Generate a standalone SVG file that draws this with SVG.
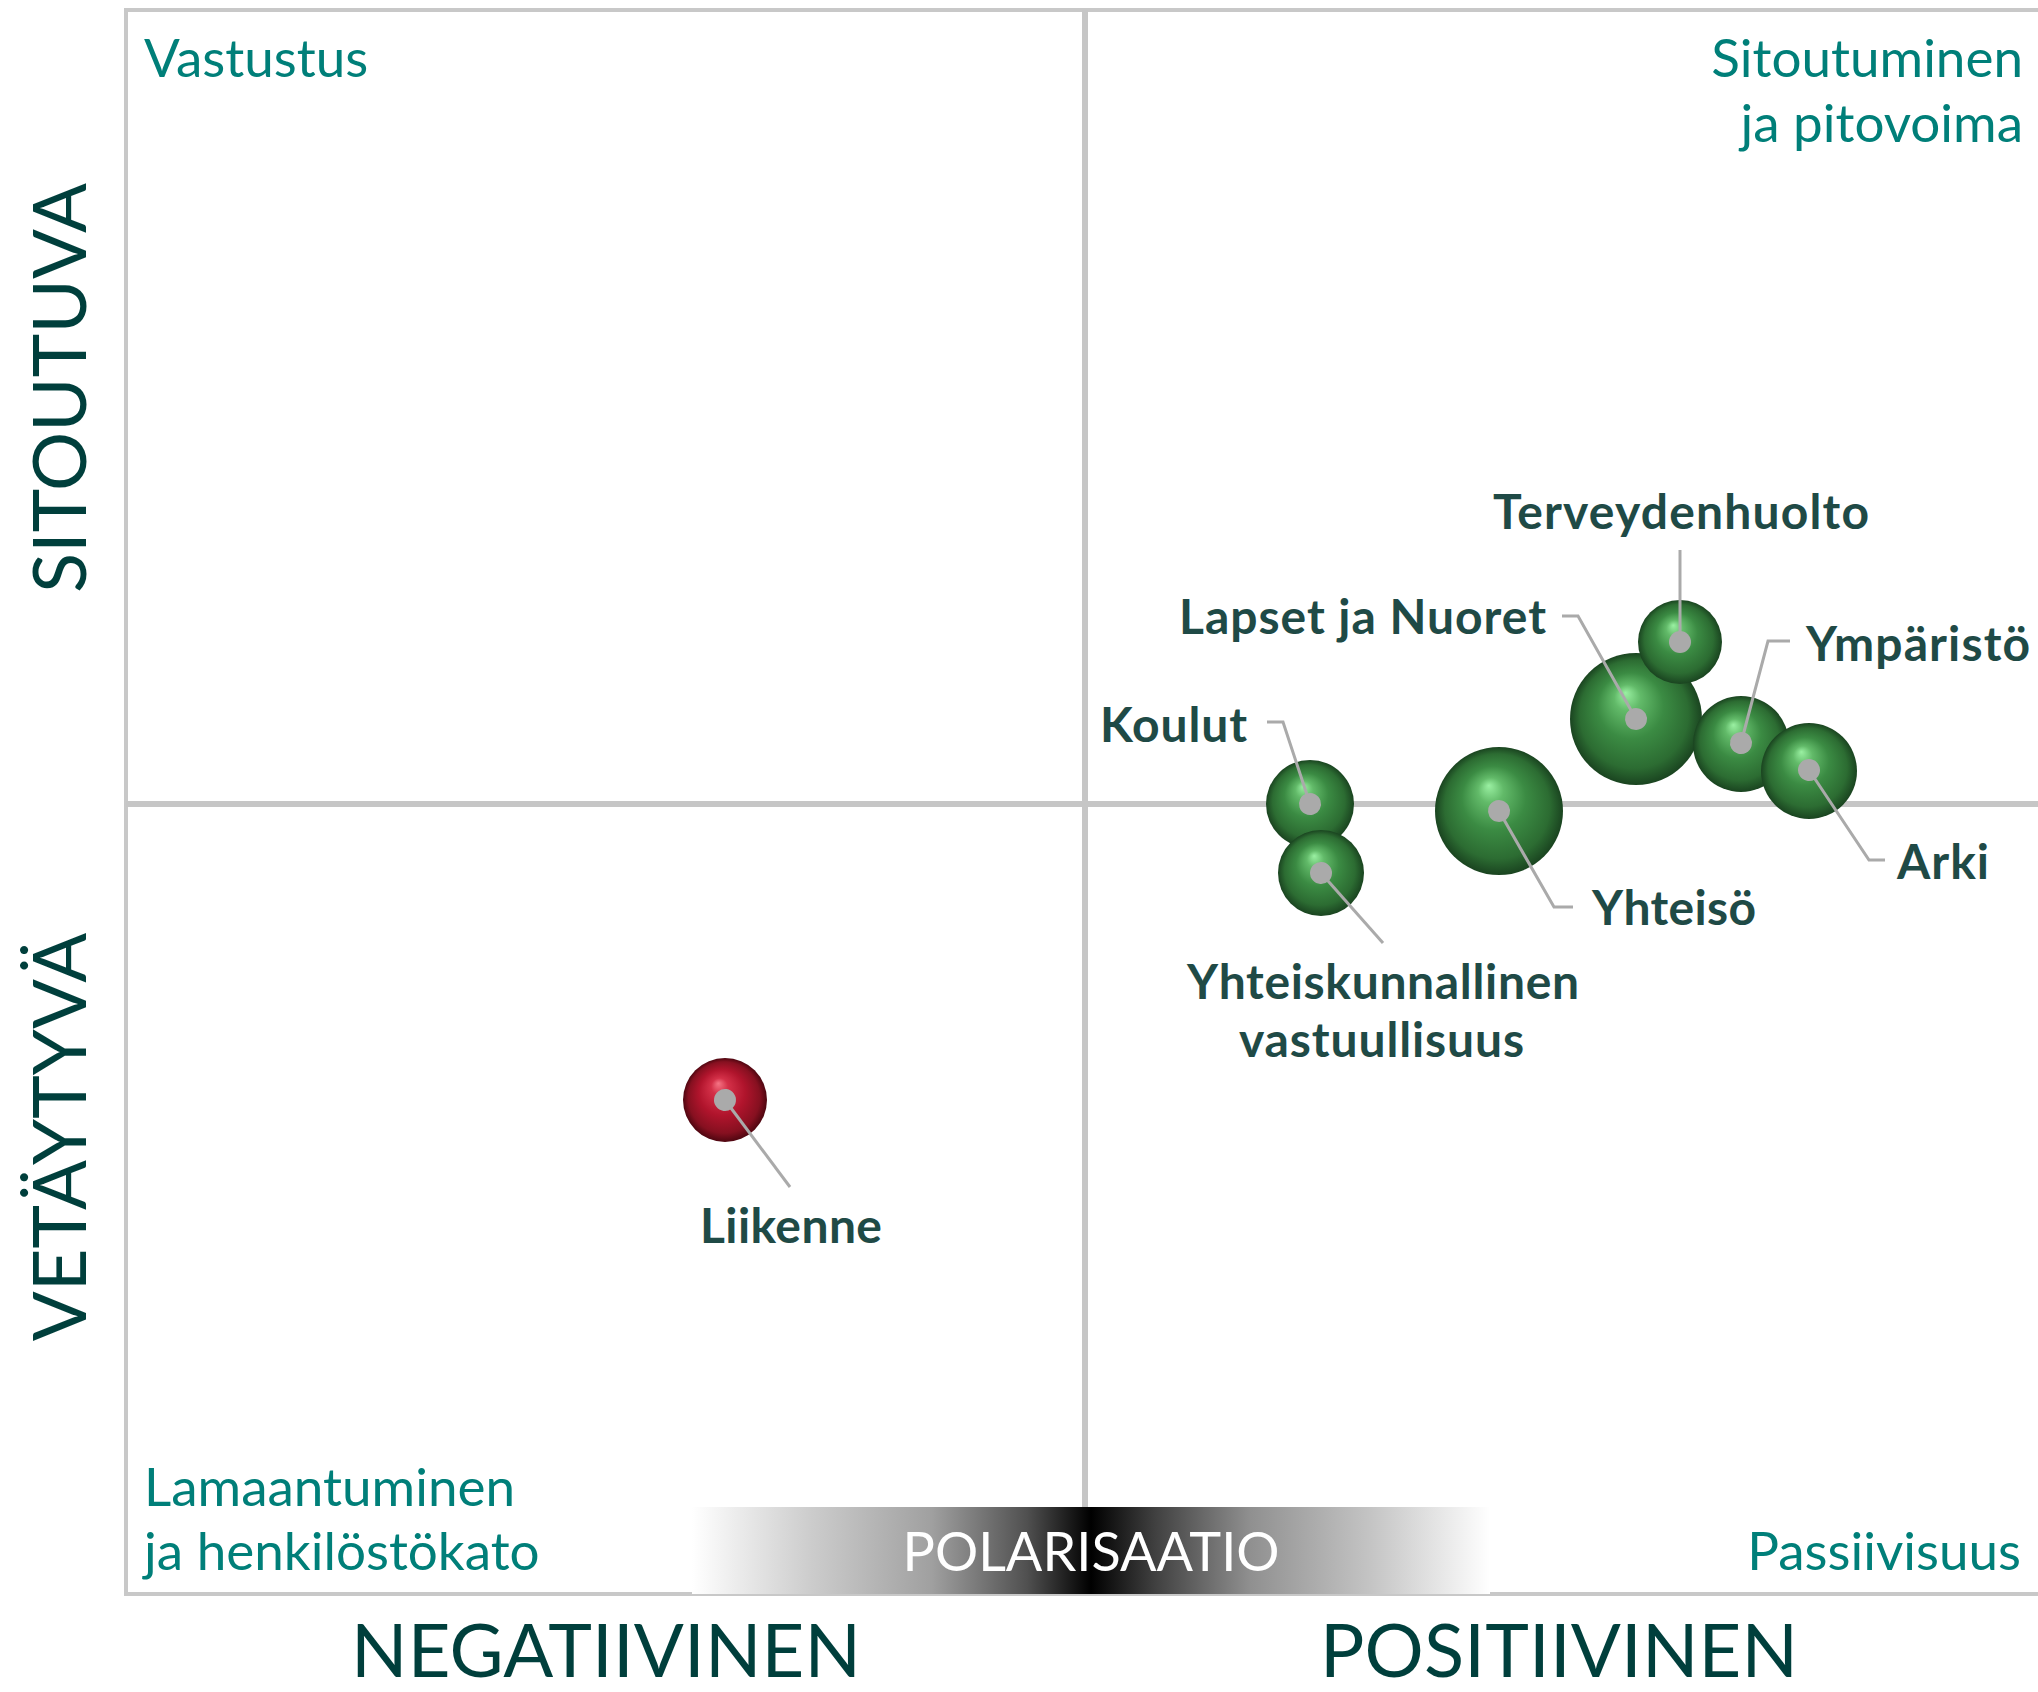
<svg xmlns="http://www.w3.org/2000/svg" width="2038" height="1692" viewBox="0 0 2038 1692">
<style>
.frame{stroke:#c8c8c8;stroke-width:4;fill:none}
.axis{stroke:#c6c6c6;stroke-width:6;fill:none}
.quad{font-family:Lato,"Liberation Sans",sans-serif;font-size:53px;fill:#007f79}
.big{font-family:Lato,"Liberation Sans",sans-serif;font-size:74px;fill:#003f3c}
.lbl{font-family:Lato,"Liberation Sans",sans-serif;font-weight:bold;font-size:48px;fill:#1f4a46}
.lead{stroke:#aaaaaa;stroke-width:3;fill:none;marker-start:url(#dot)}
.g{fill:url(#green)}
.r{fill:url(#red)}
</style>
<defs>
<radialGradient id="green" cx="0.5" cy="0.5" r="0.5" fx="0.42" fy="0.3">
<stop offset="0" stop-color="#9af0a2"/>
<stop offset="0.2" stop-color="#62ba69"/>
<stop offset="0.5" stop-color="#3b8b43"/>
<stop offset="0.82" stop-color="#2c6c32"/>
<stop offset="1" stop-color="#1a4420"/>
</radialGradient>
<radialGradient id="red" cx="0.5" cy="0.5" r="0.5" fx="0.42" fy="0.3">
<stop offset="0" stop-color="#f57585"/>
<stop offset="0.2" stop-color="#d43048"/>
<stop offset="0.55" stop-color="#b0142c"/>
<stop offset="0.85" stop-color="#861020"/>
<stop offset="1" stop-color="#4e0610"/>
</radialGradient>
<linearGradient id="pol" x1="0" y1="0" x2="1" y2="0">
<stop offset="0" stop-color="#ffffff"/>
<stop offset="0.15" stop-color="#cccccc"/>
<stop offset="0.3" stop-color="#a0a0a0"/>
<stop offset="0.42" stop-color="#505050"/>
<stop offset="0.5" stop-color="#000000"/>
<stop offset="0.58" stop-color="#404040"/>
<stop offset="0.7" stop-color="#909090"/>
<stop offset="0.85" stop-color="#c4c4c4"/>
<stop offset="1" stop-color="#ffffff"/>
</linearGradient>
<marker id="dot" markerUnits="userSpaceOnUse" viewBox="0 0 24 24" refX="12" refY="12" markerWidth="24" markerHeight="24" orient="auto">
<circle cx="12" cy="12" r="11" fill="#aaaaaa"/>
</marker>
</defs>
<rect width="2038" height="1692" fill="#ffffff"/>
<g id="chart-frame">
<line class="frame" x1="124" y1="10" x2="2038" y2="10"/>
<line class="frame" x1="126" y1="8" x2="126" y2="1596"/>
<line class="frame" x1="124" y1="1594" x2="2038" y2="1594"/>
<line class="axis" x1="1085" y1="10" x2="1085" y2="1594"/>
<line class="axis" x1="126" y1="804" x2="2038" y2="804"/>
</g>
<g id="polarisaatio">
<rect x="692" y="1507" width="798" height="87" fill="url(#pol)"/>
<text x="1091" y="1571" text-anchor="middle" font-family="Lato,'Liberation Sans',sans-serif" font-size="54" fill="#ffffff">POLARISAATIO</text>
</g>
<g id="quadrant-labels">
<text class="quad" x="144" y="77">Vastustus</text>
<text class="quad" x="2023" y="77" text-anchor="end">Sitoutuminen</text>
<text class="quad" x="2023" y="142" text-anchor="end">ja pitovoima</text>
<text class="quad" x="144" y="1506">Lamaantuminen</text>
<text class="quad" x="144" y="1570">ja henkilöstökato</text>
<text class="quad" x="2021" y="1570" text-anchor="end">Passiivisuus</text>
</g>
<g id="axis-labels">
<text class="big" x="606" y="1677" text-anchor="middle" textLength="510">NEGATIIVINEN</text>
<text class="big" x="1559" y="1677" text-anchor="middle" textLength="478">POSITIIVINEN</text>
<text class="big" transform="translate(86,388) rotate(-90)" text-anchor="middle">SITOUTUVA</text>
<text class="big" transform="translate(86,1137) rotate(-90)" text-anchor="middle">VETÄYTYVÄ</text>
</g>
<g id="koulut">
<circle class="g" cx="1310" cy="804" r="44"/>
<text class="lbl" x="1100" y="742" textLength="147">Koulut</text>
</g>
<g id="yhteiskunnallinen-vastuullisuus">
<circle class="g" cx="1321" cy="873" r="43"/>
<text class="lbl" x="1187" y="999" textLength="392">Yhteiskunnallinen</text>
<text class="lbl" x="1239" y="1057" textLength="285">vastuullisuus</text>
</g>
<g id="yhteiso">
<circle class="g" cx="1499" cy="811" r="64"/>
<text class="lbl" x="1592" y="925" textLength="164">Yhteisö</text>
</g>
<g id="lapset-ja-nuoret">
<circle class="g" cx="1636" cy="719" r="66"/>
<text class="lbl" x="1179" y="634" textLength="367">Lapset ja Nuoret</text>
</g>
<g id="terveydenhuolto">
<circle class="g" cx="1680" cy="642" r="42"/>
<text class="lbl" x="1493" y="529" textLength="376">Terveydenhuolto</text>
</g>
<g id="ymparisto">
<circle class="g" cx="1741" cy="744" r="48"/>
<text class="lbl" x="1806" y="661" textLength="224">Ympäristö</text>
</g>
<g id="arki">
<circle class="g" cx="1809" cy="771" r="48"/>
<text class="lbl" x="1897" y="879" textLength="92">Arki</text>
</g>
<g id="liikenne">
<circle class="r" cx="725" cy="1100" r="42"/>
<text class="lbl" x="700" y="1243" textLength="182">Liikenne</text>
</g>
<g id="connectors">
<path class="lead" d="M1680,642 V550"/>
<path class="lead" d="M1636,719 L1578,616 H1562"/>
<path class="lead" d="M1741,743 L1768,641 H1790"/>
<path class="lead" d="M1310,804 L1283,722 H1267"/>
<path class="lead" d="M1809,770 L1869,860 H1885"/>
<path class="lead" d="M1499,811 L1554,907 H1573"/>
<path class="lead" d="M1321,873 L1383,943"/>
<path class="lead" d="M725,1100 L790,1187"/>
</g>
</svg>
